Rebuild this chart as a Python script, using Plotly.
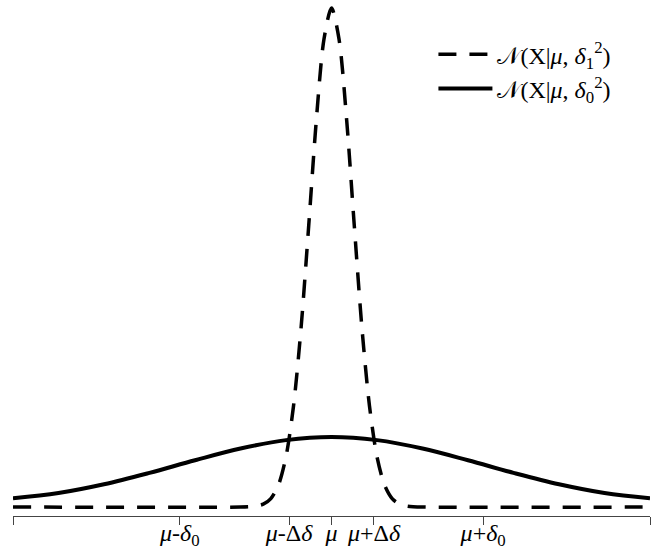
import plotly.graph_objects as go

# x positions in units of delta_0 (mu = 0)
x_wide = [-2.1, -1.8, -1.5, -1.2, -0.9, -0.6, -0.3, 0.0, 0.3, 0.6, 0.9, 1.2, 1.5, 1.8, 2.1]
y_wide = [0.050, 0.080, 0.130, 0.195, 0.267, 0.334, 0.382, 0.400, 0.382, 0.334, 0.267, 0.195, 0.130, 0.080, 0.050]

x_narrow = [-2.1, -0.6, -0.5, -0.45, -0.4, -0.35, -0.3, -0.25, -0.2, -0.15, -0.1, -0.05, 0.0,
            0.05, 0.1, 0.15, 0.2, 0.25, 0.3, 0.35, 0.4, 0.45, 0.5, 0.6, 2.1]
y_narrow = [0.0, 0.0, 0.005, 0.016, 0.048, 0.125, 0.287, 0.58, 1.03, 1.61, 2.21, 2.67, 2.85,
            2.67, 2.21, 1.61, 1.03, 0.58, 0.287, 0.125, 0.048, 0.016, 0.005, 0.0, 0.0]

tick_vals = [-2.1, -1.0, -0.28, 0.0, 0.28, 1.0, 2.1]
tick_text = ["", "<i>μ</i>-<i>δ</i><sub>0</sub>", "<i>μ</i>-Δ<i>δ</i>", "<i>μ</i>",
             "<i>μ</i>+Δ<i>δ</i>", "<i>μ</i>+<i>δ</i><sub>0</sub>", ""]

name_narrow = "𝒩(X|<i>μ</i>, <i>δ</i><sub>1</sub><sup>2</sup>)"
name_wide = "𝒩(X|<i>μ</i>, <i>δ</i><sub>0</sub><sup>2</sup>)"

fig = go.Figure()
fig.add_trace(go.Scatter(x=x_narrow, y=y_narrow, mode="lines", name=name_narrow,
                         line=dict(color="black", width=3.5, dash="18px,13px", shape="spline", smoothing=0.8),
                         legendgroup="a"))
fig.add_trace(go.Scatter(x=x_wide, y=y_wide, mode="lines", name=name_wide,
                         line=dict(color="black", width=4, shape="spline"),
                         legendgroup="b"))

fig.update_layout(
    width=657, height=556,
    margin=dict(l=13, r=7, t=5, b=40),
    paper_bgcolor="white", plot_bgcolor="white",
    font=dict(family="Liberation Serif", color="black", size=20),
    showlegend=True,
    legend=dict(x=0.66, y=0.947, xanchor="left", yanchor="top",
                font=dict(size=24, family="Liberation Serif"),
                itemwidth=54, tracegroupgap=0, bgcolor="rgba(0,0,0,0)"),
    xaxis=dict(range=[-2.1, 2.1], tickvals=tick_vals, ticktext=tick_text,
               showline=True, linecolor="#444", linewidth=1,
               ticks="outside", ticklen=8, tickcolor="#444",
               showgrid=False, zeroline=False, automargin=False,
               ticklabelstandoff=-13,
               tickfont=dict(size=24, family="Liberation Serif")),
    yaxis=dict(range=[-0.0514, 2.867], visible=False, showgrid=False, zeroline=False),
)

fig.write_html("out.html")
